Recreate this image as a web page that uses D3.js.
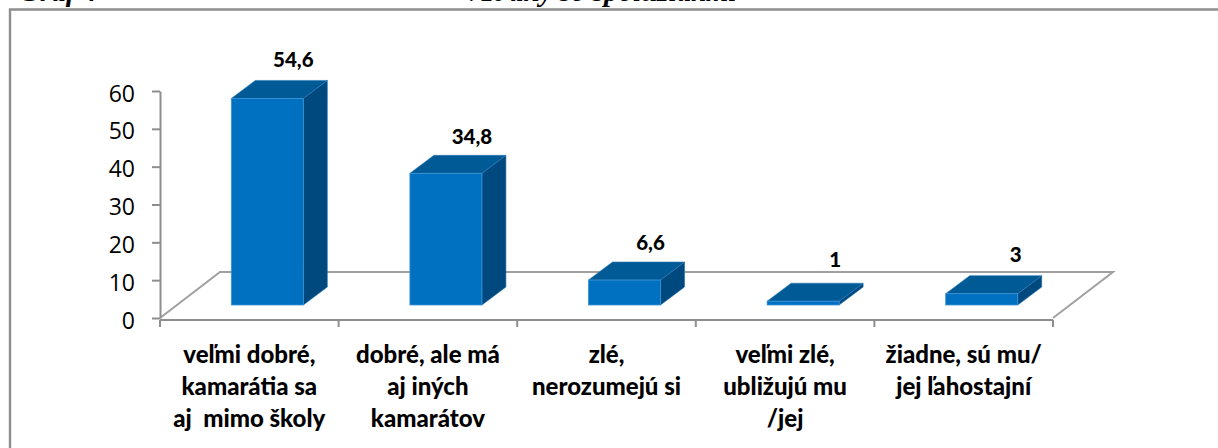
<!DOCTYPE html>
<html lang="sk">
<head>
<meta charset="utf-8">
<script src="https://cdn.jsdelivr.net/npm/d3@7/dist/d3.min.js"></script>
<style>
html,body{margin:0;padding:0;background:#fff;overflow:hidden}
svg{display:block}
</style>
</head>
<body>
<div id="chart"></div>
<script>
const categories = [
  ["veľmi dobré,", "kamarátia sa", "aj  mimo školy"],
  ["dobré, ale má", "aj iných", "kamarátov"],
  ["zlé,", "nerozumejú si"],
  ["veľmi zlé,", "ubližujú mu", "/jej"],
  ["žiadne, sú mu/", "jej ľahostajní"]
];
const values = [54.6, 34.8, 6.6, 1, 3];
const valueLabels = ["54,6", "34,8", "6,6", "1", "3"];
const yTicks = [0, 10, 20, 30, 40, 50, 60];
const headingLeft = "Graf 4";
const headingCenter = "Vzťahy so spolužiakmi";

const W = 1218, H = 448;
const svg = d3.select("#chart").append("svg").attr("width", W).attr("height", H);

const AX = "#8e8e8e";
const x = d3.scaleBand().domain(d3.range(values.length)).range([160, 1053]).paddingInner(0).paddingOuter(0);
const y = d3.scaleLinear().domain([0, 60]).range([318, 91]);

const floor = {dx: 60, dy: -46};
const barDepth = {dx: 24, dy: -18};
const baseLift = 13;
const baseShift = 18;
const barW = 72;

const line = d3.line();

// frame and clipped heading
svg.append("path").attr("d", line([[10, H], [10, 9.5], [W, 9.5]]))
  .attr("fill", "none").attr("stroke", AX).attr("stroke-width", 2.4);
const headG = svg.append("g").attr("font-family", "'Liberation Serif', serif")
  .attr("font-weight", "bold").attr("font-style", "italic").attr("font-size", 29).attr("fill", "#000");
headG.append("text").attr("x", 19).attr("y", 1).text(headingLeft);
headG.append("text").attr("x", 463).attr("y", 1).text(headingCenter);

// floor
const x0 = x.range()[0], x1 = x.range()[1], y0 = y(0);
svg.append("path")
  .attr("d", line([[x0, y0], [x0 + floor.dx, y0 + floor.dy], [x1 + floor.dx, y0 + floor.dy], [x1, y0]]))
  .attr("fill", "none").attr("stroke", "#a0a0a0").attr("stroke-width", 2);

// axes
const yAxis = d3.axisLeft(y).tickValues(yTicks).tickSize(8).tickPadding(17).tickSizeOuter(0);
const yG = svg.append("g").attr("transform", `translate(${x0},0)`).call(yAxis);
yG.select(".domain").attr("stroke", AX).attr("stroke-width", 2);
yG.selectAll("line").attr("stroke", AX).attr("stroke-width", 2);
yG.selectAll("text").attr("x", -25).attr("dy", "0.44em").attr("font-family", "'Open Sans', sans-serif").attr("font-size", 23).attr("fill", "#000");

const xBoundaries = d3.range(values.length + 1).map(i => x0 + i * x.step());
svg.append("path").attr("d", line([[x0, y0 + 2], [x1, y0 + 2]])).attr("stroke", AX).attr("stroke-width", 2).attr("fill", "none");
svg.selectAll("line.xt").data(xBoundaries).join("line").attr("class", "xt")
  .attr("x1", d => d).attr("x2", d => d).attr("y1", y0 + 2).attr("y2", y0 + 9)
  .attr("stroke", AX).attr("stroke-width", 2);

// 3D bars
const bars = svg.selectAll("g.bar").data(values).join("g").attr("class", "bar");
const frontX = (_, i) => x(i) + (x.bandwidth() - barW) / 2 + baseShift;
const baseY = y0 - baseLift;
const pxH = d => y(0) - y(d);

bars.append("path").attr("fill", "#00497F").attr("stroke", "#1f6aa5").attr("stroke-width", 0.6)
  .attr("d", (d, i) => {
    const l = frontX(d, i) + barW, t = baseY - pxH(d);
    return line([[l, t], [l + barDepth.dx, t + barDepth.dy], [l + barDepth.dx, baseY + barDepth.dy], [l, baseY]]) + "Z";
  });
bars.append("path").attr("fill", "#005A96").attr("stroke", "#2a78b4").attr("stroke-width", 0.6)
  .attr("d", (d, i) => {
    const l = frontX(d, i), t = baseY - pxH(d);
    return line([[l, t], [l + barDepth.dx, t + barDepth.dy], [l + barW + barDepth.dx, t + barDepth.dy], [l + barW, t]]) + "Z";
  });
bars.append("rect").attr("fill", "#0070C0").attr("stroke", "#3c94d6").attr("stroke-width", 0.8)
  .attr("x", frontX).attr("y", d => baseY - pxH(d)).attr("width", barW).attr("height", pxH);

// value labels
const labelNudge = [[0, 0], [0, 2], [0, 1], [6, -3], [8, -1]];
svg.selectAll("text.val").data(values).join("text").attr("class", "val")
  .attr("x", (d, i) => frontX(d, i) + barW / 2 + 26 + labelNudge[i][0])
  .attr("y", (d, i) => baseY - pxH(d) - 31 + labelNudge[i][1])
  .attr("text-anchor", "middle")
  .attr("font-family", "Lato, sans-serif").attr("font-weight", 900).attr("font-size", 20.5).attr("fill", "#000")
  .text((d, i) => valueLabels[i]);

// category labels
const catG = svg.selectAll("text.cat").data(categories).join("text").attr("class", "cat")
  .attr("text-anchor", "middle")
  .attr("font-family", "Lato, sans-serif").attr("font-weight", 900).attr("font-size", 24).attr("fill", "#000")
  .attr("xml:space", "preserve").style("white-space", "pre");
catG.selectAll("tspan").data((d, i) => d.map(t => ({t, i}))).join("tspan")
  .attr("x", d => x(d.i) + x.bandwidth() / 2)
  .attr("y", (d, j) => 363 + j * 32)
  .text(d => d.t);
</script>
</body>
</html>
